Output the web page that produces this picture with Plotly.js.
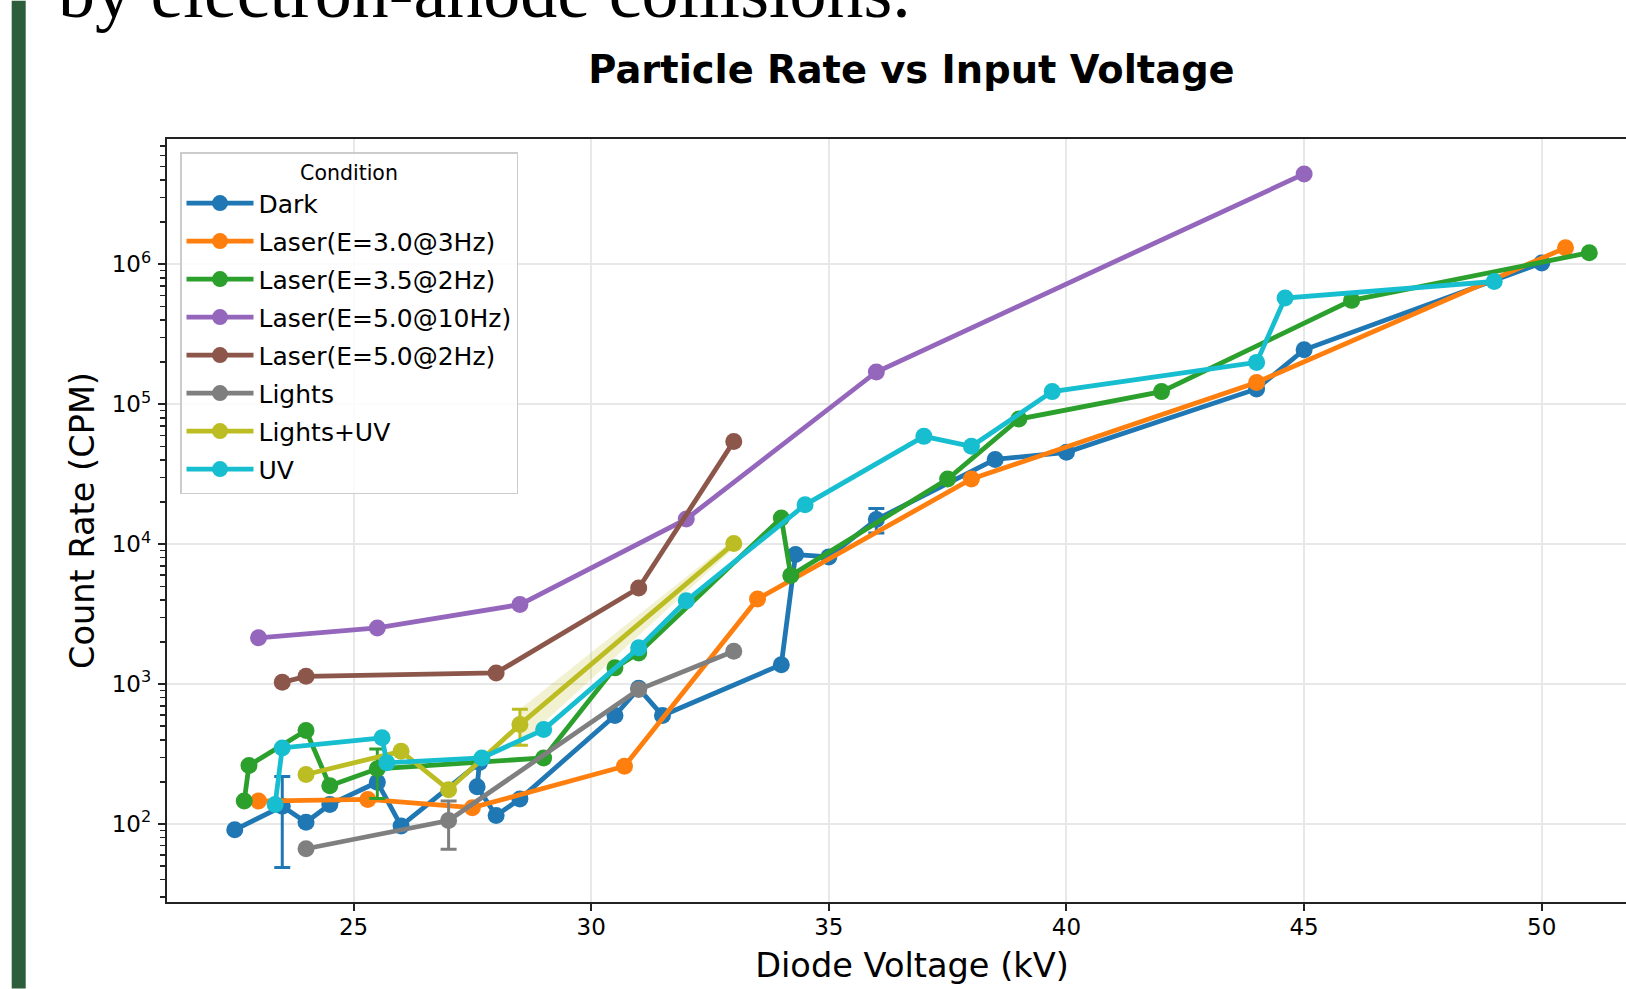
<!DOCTYPE html>
<html>
<head>
<meta charset="utf-8">
<script src="https://cdn.plot.ly/plotly-3.0.1.min.js"></script>
<style>
html, body { margin: 0; padding: 0; overflow: hidden; background: #fff; }
#chart { width: 1680px; height: 989px; }
</style>
</head>
<body>
<div id="chart"></div>
<script>
// ---- data ----
const darkX = [22.5, 23.5, 24, 24.5, 25.5, 26, 27.65, 27.6, 28, 28.5, 30.5, 31, 31.5, 34, 34.3, 35, 36, 38.5, 40, 44, 45, 50];
const darkY = [91, 134, 103, 138, 199, 97, 275, 185, 115, 151, 596, 933, 596, 1377, 8420, 8110, 15000, 40300, 45300, 128500, 245000, 1020000];
const darkErr = [null, 85, null, null, null, null, null, null, null, null, null, null, null, null, null, null, 3000, null, null, null, null, null];

const laser30X = [23, 25.3, 27.5, 30.7, 33.5, 38, 44, 50.5];
const laser30Y = [146, 150, 131, 259, 4060, 29200, 143000, 1310000];

const laser35X = [22.7, 22.8, 24, 24.5, 25.5, 29, 30.5, 31, 34, 34.2, 37.5, 39, 42, 46, 51];
const laser35Y = [146, 262, 466, 188, 248, 297, 1306, 1671, 15400, 5960, 29200, 78300, 123000, 552000, 1210000];
const laser35Err = [null, null, null, null, 96, null, null, null, null, null, null, null, null, null, null];

const laser50hX = [23, 25.5, 28.5, 32, 36, 45];
const laser50hY = [2140, 2520, 3700, 15100, 170000, 4420000];

const laser50lX = [23.5, 24, 28, 31, 33];
const laser50lY = [1030, 1137, 1202, 4860, 54200];

const lightsX = [24, 27, 31, 33];
const lightsY = [66.6, 106, 914, 1714];
const lightsErr = [null, 40, null, null];

const lightsUvX = [24, 26, 27, 28.5, 33];
const lightsUvY = [226, 331, 176, 514, 10100];
const lightsUvErr = [null, null, null, 148, null];
const bandX = [28.5, 33];
const bandLow = [370, 9300];
const bandHigh = [660, 10900];

const uvX = [23.35, 23.5, 25.6, 25.7, 27.7, 29, 31, 32, 34.5, 37, 38, 39.7, 44, 44.6, 49];
const uvY = [138, 350, 413, 274, 297, 473, 1815, 3945, 19100, 58900, 50000, 123000, 199000, 574000, 753000];

const xTicks = [25, 30, 35, 40, 45, 50];
const yTicks = [100, 1000, 10000, 100000, 1000000];
const yTickText = ['10<sup>2</sup>', '10<sup>3</sup>', '10<sup>4</sup>', '10<sup>5</sup>', '10<sup>6</sup>'];

const names = ['Dark', 'Laser(E=3.0@3Hz)', 'Laser(E=3.5@2Hz)', 'Laser(E=5.0@10Hz)', 'Laser(E=5.0@2Hz)', 'Lights', 'Lights+UV', 'UV'];
const colors = ['#1f77b4', '#ff7f0e', '#2ca02c', '#9467bd', '#8c564b', '#7f7f7f', '#bcbd22', '#17becf'];

// ---- build ----
const minorVals = [];
for (let e = 1; e <= 6; e++) for (let m = 2; m <= 9; m++) minorVals.push(m * Math.pow(10, e));

function errObj(arr, color) {
  if (!arr) return undefined;
  return { type: 'data', array: arr.map(v => v === null ? NaN : v), visible: true,
           color: color, thickness: 3, width: 8 };
}
function series(i, x, y, err) {
  return {
    type: 'scatter', mode: 'lines+markers', name: names[i], x: x, y: y,
    legendgroup: 'g' + i,
    line: { color: colors[i], width: 4.8 },
    marker: { color: colors[i], size: 17, line: { width: 0 } },
    error_y: errObj(err, colors[i])
  };
}

const band = {
  type: 'scatter', mode: 'lines', x: bandX.concat(bandX.slice().reverse()),
  y: bandHigh.concat(bandLow.slice().reverse()), fill: 'toself',
  fillcolor: 'rgba(188,189,34,0.2)', line: { width: 0, color: 'rgba(0,0,0,0)' },
  showlegend: false, hoverinfo: 'skip'
};

const data = [
  band,
  series(0, darkX, darkY, darkErr),
  series(1, laser30X, laser30Y),
  series(2, laser35X, laser35Y, laser35Err),
  series(3, laser50hX, laser50hY),
  series(4, laser50lX, laser50lY),
  series(5, lightsX, lightsY, lightsErr),
  series(6, lightsUvX, lightsUvY, lightsUvErr),
  series(7, uvX, uvY)
];

const W = 1680, H = 989, L = 167, R = 23, T = 138.5, B = 86.5;
const pw = W - L - R, ph = H - T - B;
const px = v => (v - L) / pw;
const py = v => (H - B - v) / ph;

const layout = {
  width: W, height: H,
  margin: { l: L, r: R, t: T, b: B, pad: 0 },
  paper_bgcolor: '#fff', plot_bgcolor: '#fff',
  font: { family: 'DejaVu Sans', color: '#000' },
  title: { text: 'Particle Rate vs Input Voltage', x: 911.5 / W, xanchor: 'center', xref: 'container',
           y: 1 - 69.5 / H, yanchor: 'middle', yref: 'container',
           font: { family: 'DejaVu Sans', size: 38.4, weight: 700, color: '#000' } },
  xaxis: {
    type: 'linear', range: [21.075, 52.425], tickmode: 'array', tickvals: xTicks,
    ticktext: xTicks.map(String),
    showline: true, linecolor: '#222', linewidth: 2.2, mirror: true,
    ticks: 'outside', ticklen: 7, tickwidth: 2, tickcolor: '#222',
    showgrid: true, gridcolor: '#e8e8e8', gridwidth: 2, zeroline: false,
    tickfont: { size: 23 }, ticklabelstandoff: -4,
    title: { text: 'Diode Voltage (kV)', font: { size: 33.6 }, standoff: 15 }
  },
  yaxis: {
    type: 'log', range: [1.443, 6.895], tickmode: 'array', tickvals: yTicks, ticktext: yTickText,
    showline: true, linecolor: '#222', linewidth: 2.2, mirror: true,
    ticks: 'outside', ticklen: 7, tickwidth: 2, tickcolor: '#222',
    showgrid: true, gridcolor: '#e8e8e8', gridwidth: 2, zeroline: false,
    tickfont: { size: 23 }, ticklabelstandoff: 2,
    minor: { tickmode: 'array', tickvals: minorVals, ticks: 'outside', ticklen: 4.5,
             tickwidth: 1.5, tickcolor: '#222', showgrid: false },
    title: { text: 'Count Rate (CPM)', font: { size: 33.6 }, standoff: 7 }
  },
  legend: {
    x: px(180), y: py(151.7), xanchor: 'left', yanchor: 'top',
    bgcolor: 'rgba(255,255,255,0.85)', bordercolor: '#cccccc', borderwidth: 1.5,
    font: { size: 25 }, tracegroupgap: 2.5, itemwidth: 67,
    title: { text: 'Condition', side: 'top center', font: { size: 20.5 } }
  },
  shapes: [
    { type: 'rect', xref: 'paper', yref: 'paper', x0: px(11.7), x1: px(25.7), y0: py(989), y1: py(0),
      fillcolor: '#2c5e3b', line: { width: 0 }, layer: 'above' }
  ],
  annotations: [
    { text: 'by electron-anode collisions.', xref: 'paper', yref: 'paper', x: px(57), y: py(33),
      xanchor: 'left', yanchor: 'bottom', showarrow: false, borderpad: 0,
      font: { family: 'Liberation Serif', size: 74, color: '#000' } }
  ]
};

Plotly.newPlot('chart', data, layout, { displayModeBar: false, staticPlot: true });
</script>
</body>
</html>
